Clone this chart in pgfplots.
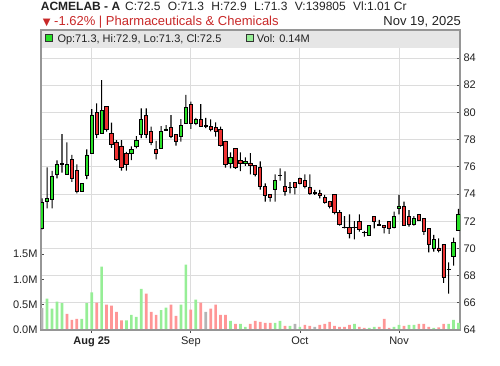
\documentclass[border=0pt]{standalone}
\usepackage{pgfplots}
\pgfplotsset{compat=1.18}
\usepackage{pgfplotstable}
\usepackage{fontspec}
\setmainfont{Liberation Sans}
\newfontfamily\symfont{DejaVu Sans}
\definecolor{gridgray}{RGB}{220,220,220}
\definecolor{axisgray}{RGB}{150,150,150}
\definecolor{bandgray}{RGB}{230,230,230}
\definecolor{cgreen}{RGB}{40,225,40}
\definecolor{cred}{RGB}{238,50,50}
\definecolor{vgreen}{RGB}{150,238,150}
\definecolor{vred}{RGB}{255,150,150}
\definecolor{vgray}{RGB}{180,180,180}
\definecolor{titlered}{RGB}{200,40,40}
\definecolor{textdark}{RGB}{34,34,34}

\pgfplotstableread{
x o h l c
0 71.48 73.68 71.40 73.36
1 73.45 75.95 72.95 73.70
2 73.61 75.70 72.95 75.30
3 75.45 76.48 75.15 76.18
4 76.15 78.41 75.57 76.25
5 75.45 77.80 75.45 76.18
6 76.55 76.87 74.90 75.15
7 75.74 76.18 74.05 74.22
8 74.22 74.80 74.20 74.78
9 75.40 77.28 75.10 76.87
10 76.99 80.25 76.99 79.81
11 80.00 80.67 78.10 78.39
12 78.46 82.38 78.46 80.15
13 80.45 80.45 78.58 78.78
14 78.46 79.25 77.40 77.65
15 77.80 77.97 76.43 76.55
16 77.53 77.97 75.72 75.96
17 76.99 77.10 75.72 76.18
18 77.00 77.50 76.50 77.25
19 77.50 78.26 77.36 77.94
20 78.39 80.30 78.10 79.49
21 79.76 80.30 78.10 78.39
22 78.60 78.95 77.60 77.80
23 77.28 77.90 76.55 76.97
24 77.36 79.00 77.36 78.60
25 78.70 79.07 78.65 78.78
26 78.90 79.80 78.10 78.26
27 78.39 78.39 77.56 77.90
28 78.24 79.50 77.85 79.05
29 79.20 81.28 79.20 80.37
30 80.59 80.79 78.78 79.20
31 79.20 79.60 79.07 79.49
32 79.49 80.60 78.98 78.98
33 79.02 79.60 78.85 78.98
34 79.00 79.49 78.60 78.78
35 78.90 79.27 78.22 78.58
36 78.75 78.95 77.48 77.60
37 77.90 77.90 75.94 76.18
38 76.25 77.06 75.89 76.70
39 77.36 77.36 75.84 75.96
40 76.48 77.06 75.69 76.25
41 76.25 76.70 76.06 76.40
42 76.28 77.01 75.45 76.11
43 76.11 76.11 75.30 75.45
44 75.96 76.40 74.32 74.56
45 74.56 74.78 73.44 73.90
46 73.98 73.98 73.44 73.75
47 74.34 75.45 73.44 75.00
48 75.33 75.89 74.98 75.37
49 74.56 75.67 73.88 74.20
50 74.50 74.88 74.05 74.48
51 74.86 74.86 73.98 74.49
52 75.15 75.20 74.70 74.78
53 75.00 75.45 74.42 74.56
54 74.49 75.45 73.93 74.05
55 74.10 74.30 73.93 74.05
56 74.07 74.30 73.68 73.93
57 73.75 73.93 73.30 73.39
58 73.44 73.49 72.95 73.07
59 73.98 73.98 72.50 72.65
60 72.65 72.82 71.67 71.77
61 71.55 72.38 71.48 71.52
62 71.55 72.50 70.74 71.11
63 71.55 72.01 70.67 71.52
64 72.01 72.50 71.23 71.43
65 71.18 71.28 70.86 71.14
66 70.96 71.67 70.96 71.67
67 72.36 72.36 71.48 71.99
68 71.74 72.09 71.67 71.70
69 71.72 71.72 71.11 71.55
70 72.01 72.01 71.06 71.48
71 71.55 72.70 71.48 72.36
72 72.95 73.93 72.50 73.12
73 73.07 73.44 71.67 71.70
74 72.33 72.82 71.60 71.79
75 71.79 72.38 71.67 72.21
76 72.50 72.50 72.04 72.09
77 72.21 72.21 70.99 71.28
78 71.48 71.48 69.71 70.32
79 70.00 70.99 69.76 70.67
80 70.03 70.74 69.71 69.88
81 70.30 70.30 67.46 67.87
82 68.42 68.98 66.67 68.46
83 69.39 70.79 68.73 70.45
84 71.30 72.90 71.30 72.50
}\candles

\pgfplotstableread{
x v d
0 0.43 0
1 0.62 1
2 0.42 1
3 0.56 1
4 0.53 1
5 0.32 2
6 0.20 2
7 0.22 2
8 0.22 1
9 0.53 1
10 0.74 1
11 0.54 2
12 1.25 1
13 0.50 2
14 0.48 2
15 0.36 2
16 0.19 2
17 0.19 1
18 0.30 1
19 0.26 1
20 0.81 1
21 0.72 2
22 0.36 2
23 0.30 2
24 0.39 1
25 0.44 1
26 0.50 2
27 0.28 2
28 0.50 1
29 1.29 1
30 0.40 2
31 0.60 1
32 0.54 2
33 0.36 0
34 0.42 2
35 0.50 2
36 0.30 2
37 0.30 2
38 0.18 1
39 0.12 2
40 0.12 1
41 0.06 1
42 0.12 2
43 0.18 2
44 0.16 2
45 0.14 2
46 0.14 2
47 0.14 1
48 0.18 1
49 0.08 2
50 0.08 1
51 0.12 0
52 0.06 1
53 0.10 2
54 0.08 2
55 0.06 0
56 0.10 2
57 0.12 2
58 0.16 2
59 0.08 2
60 0.06 2
61 0.06 2
62 0.10 2
63 0.12 1
64 0.06 2
65 0.04 2
66 0.04 1
67 0.06 1
68 0.06 2
69 0.22 2
70 0.04 2
71 0.06 1
72 0.10 1
73 0.08 2
74 0.10 1
75 0.10 1
76 0.12 2
77 0.12 2
78 0.06 2
79 0.04 1
80 0.05 2
81 0.12 2
82 0.12 1
83 0.20 1
84 0.14 1
}\vols

\tikzset{lbl/.style={font=\fontsize{11}{13}\selectfont, text=textdark}}
\pgfplotsset{
  base/.style={at={(41pt,36pt)}, anchor=south west, scale only axis,
    width=419pt, height=300pt, xmin=-0.23, xmax=84.3},
}

\begin{document}
\begin{tikzpicture}[x=1pt,y=1pt]
\useasboundingbox (0,0) rectangle (500,366);

% grid, frame and price ticks
\begin{axis}[base, ymin=64, ymax=86.06,
  xtick={10,30,52,72}, xticklabels={,,,}, xtick style={draw=none},
  ytick={64,66,...,84}, ytick pos=right, yticklabel pos=right,
  tick align=inside, major tick length=3pt,
  ytick style={draw=black!70, line width=0.8pt},
  grid=major, grid style={draw=gridgray, line width=1pt},
  axis line style={draw=axisgray, line width=1.3pt},
  yticklabel style={lbl},
  /pgf/number format/assume math mode=true]
\end{axis}

% volume
\begin{axis}[base, ymin=0, ymax=5.92, axis x line=none, axis y line*=left,
  ytick={0,0.5,1,1.5}, yticklabels={0.0M,0.5M,1.0M,1.5M},
  tick align=inside, major tick length=3pt,
  ytick style={draw=black!70, line width=0.8pt},
  axis line style={draw=axisgray, line width=1.3pt},
  yticklabel style={lbl},
  ybar, bar width=2.7pt, bar shift=0pt]
\addplot[ybar, bar shift=0pt, draw=none, fill=vgray] table[x=x, y expr={\thisrow{d}==0 ? \thisrow{v} : 0}] {\vols};
\addplot[ybar, bar shift=0pt, draw=none, fill=vgreen] table[x=x, y expr={\thisrow{d}==1 ? \thisrow{v} : 0}] {\vols};
\addplot[ybar, bar shift=0pt, draw=none, fill=vred] table[x=x, y expr={\thisrow{d}==2 ? \thisrow{v} : 0}] {\vols};
\end{axis}

% month ticks
\begin{axis}[base, ymin=0, ymax=1, axis y line=none, axis x line*=bottom,
  xtick={10,30,52,72}, xticklabels={\textbf{Aug 25},Sep,Oct,Nov},
  tick align=outside, major tick length=3pt,
  xtick style={draw=black!70, line width=0.8pt},
  axis line style={draw=axisgray, line width=1.3pt},
  xticklabel style={lbl}]
\end{axis}

% wicks
\begin{axis}[base, ymin=64, ymax=86.06, hide axis, ybar stacked, bar width=1.1pt, bar shift=0pt]
\addplot[draw=none, fill=none] table[x=x, y=l] {\candles};
\addplot[draw=none, fill=black] table[x=x, y expr={\thisrow{h}-\thisrow{l}}] {\candles};
\end{axis}

% bodies
\begin{axis}[base, ymin=64, ymax=86.06, hide axis, ybar stacked, bar width=3.3pt, bar shift=0pt]
\addplot[draw=none, fill=none] table[x=x, y expr={min(\thisrow{o},\thisrow{c})}] {\candles};
\addplot[draw=black, line width=0.9pt, fill=cgreen] table[x=x, y expr={max(\thisrow{c}-\thisrow{o},0)}] {\candles};
\addplot[draw=black, line width=0.9pt, fill=cred] table[x=x, y expr={max(\thisrow{o}-\thisrow{c},0)}] {\candles};
\end{axis}

% legend band
\fill[bandgray] (41,318) rectangle (460,336);
\draw[axisgray, line width=1.3pt] (41,318) -- (41,336) -- (460,336) -- (460,318);
\filldraw[fill=cgreen, draw=black!80, line width=0.7pt] (45.3,324.3) rectangle (52.3,331.3);
\node[anchor=base west, inner sep=0, lbl] at (57.3,323.5) {Op:71.3, Hi:72.9, Lo:71.3, Cl:72.5};
\filldraw[fill=vgreen, draw=black!80, line width=0.7pt] (246,324.3) rectangle (253,331.3);
\node[anchor=base west, inner sep=0, lbl] at (256.7,323.5) {Vol: 0.14M};

% title
\node[anchor=base west, inner sep=0, font=\bfseries\fontsize{12}{14}\selectfont, text=textdark] at (40.7,355.3) {ACMELAB - A};
\node[anchor=base west, inner sep=0, font=\fontsize{12}{14}\selectfont, text=textdark] at (125,355.3)
  {C:72.5\hspace{7.4pt}O:71.3\hspace{7.4pt}H:72.9\hspace{7.4pt}L:71.3\hspace{7.4pt}V:139805\hspace{7.4pt}Vl:1.01 Cr};
\node[anchor=base west, inner sep=0, font=\fontsize{13}{15}\selectfont, text=titlered] at (42.7,340) {{\symfont\fontsize{10}{12}\selectfont ▼} -1.62\% | Pharmaceuticals \& Chemicals};
\node[anchor=base east, inner sep=0, font=\fontsize{13}{15}\selectfont, text=textdark] at (461,340) {Nov 19, 2025};
\end{tikzpicture}
\end{document}
